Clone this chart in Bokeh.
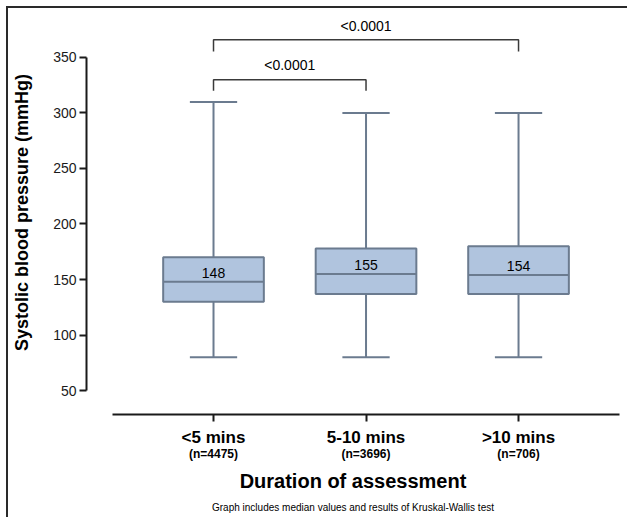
from bokeh.plotting import figure
from bokeh.models import (Range1d, FixedTicker, LinearAxis, Title, ColumnDataSource, Div)
from bokeh.layouts import column, row
from bokeh.core.properties import value
from bokeh.embed import file_html
from bokeh.resources import INLINE

# ---- data ----
categories = ["<5 mins", "5-10 mins", ">10 mins"]
n_labels = ["(n=4475)", "(n=3696)", "(n=706)"]
medians = [148, 155, 154]
q1 = [130, 137, 137]
q3 = [170, 178, 180]
whisk_lo = [80, 80, 80]
whisk_hi = [310, 300, 300]
y_ticks = [50, 100, 150, 200, 250, 300, 350]
comparisons = [(0, 1), (0, 2)]
p_values = ["<0.0001", "<0.0001"]

FONT = "Liberation Sans"
BOX_FILL = "#b0c4de"
BOX_LINE = "#6b7b8f"
EDGE = "#2a2a2a"

xs = list(range(len(categories)))

p = figure(width=619, height=509, output_backend="svg", toolbar_location=None,
           x_range=Range1d(-0.8328, 2.662), y_range=Range1d(28.38, 392.34),
           min_border_left=78, min_border_right=8, min_border_top=2,
           min_border_bottom=0)
p.margin = 0
p.outline_line_color = None
p.xgrid.visible = False
p.ygrid.visible = False
p.background_fill_color = "white"
p.border_fill_color = "white"

# ---- y axis ----
ya = p.yaxis[0]
ya.ticker = FixedTicker(ticks=y_ticks)
ya.bounds = (y_ticks[0], y_ticks[-1])
ya.axis_line_width = 2
ya.axis_line_color = "#1a1a1a"
ya.major_tick_line_width = 2
ya.major_tick_line_color = "#1a1a1a"
ya.major_tick_out = 7
ya.major_tick_in = 0
ya.minor_tick_line_color = None
ya.major_label_standoff = 3
ya.major_label_text_font = FONT
ya.major_label_text_font_size = "14px"
ya.major_label_text_color = "#1a1a1a"
ya.axis_label = "Systolic blood pressure (mmHg)"
ya.axis_label_text_font = FONT
ya.axis_label_text_font_style = "bold"
ya.axis_label_text_font_size = "18px"
ya.axis_label_text_color = "#000000"
ya.axis_label_standoff = 18

# ---- x axis (category names) ----
xa = p.xaxis[0]
xa.ticker = FixedTicker(ticks=xs)
xa.bounds = (-0.662, 2.662)
xa.major_label_overrides = {i: c for i, c in zip(xs, categories)}
xa.axis_line_width = 2
xa.axis_line_color = "#1a1a1a"
xa.major_tick_line_width = 2
xa.major_tick_line_color = "#1a1a1a"
xa.major_tick_out = 7
xa.major_tick_in = 0
xa.minor_tick_line_color = None
xa.major_label_standoff = 6
xa.major_label_text_font = FONT
xa.major_label_text_font_style = "bold"
xa.major_label_text_font_size = "17px"
xa.major_label_text_color = "#000000"

# ---- second x axis (n counts + axis title) ----
xa2 = LinearAxis(ticker=FixedTicker(ticks=xs),
                 major_label_overrides={i: n for i, n in zip(xs, n_labels)})
xa2.axis_line_color = None
xa2.major_tick_line_color = None
xa2.minor_tick_line_color = None
xa2.major_tick_out = 0
xa2.major_tick_in = 0
xa2.major_label_standoff = -3
xa2.major_label_text_font = FONT
xa2.major_label_text_font_style = "bold"
xa2.major_label_text_font_size = "12px"
xa2.major_label_text_color = "#000000"
xa2.axis_label = "Duration of assessment"
xa2.axis_label_text_font = FONT
xa2.axis_label_text_font_style = "bold"
xa2.axis_label_text_font_size = "20px"
xa2.axis_label_text_color = "#000000"
xa2.axis_label_standoff = 6
p.add_layout(xa2, "below")

foot = Title(text="Graph includes median values and results of Kruskal-Wallis test",
             align="center", text_font=FONT, text_font_size="10px",
             text_font_style="normal", text_color="#000000")
p.add_layout(foot, "below")

# ---- boxes ----
src = ColumnDataSource(dict(x=xs, med=medians, q1=q1, q3=q3, lo=whisk_lo, hi=whisk_hi,
                            lab=[str(m) for m in medians]))
BOX_W = 0.66
CAP_W = 0.31
p.segment(x0="x", y0="lo", x1="x", y1="q1", source=src, line_color=BOX_LINE, line_width=2)
p.segment(x0="x", y0="q3", x1="x", y1="hi", source=src, line_color=BOX_LINE, line_width=2)
cap_x0 = [x - CAP_W / 2 for x in xs]
cap_x1 = [x + CAP_W / 2 for x in xs]
p.segment(x0=cap_x0, y0=whisk_lo, x1=cap_x1, y1=whisk_lo, line_color=BOX_LINE, line_width=2)
p.segment(x0=cap_x0, y0=whisk_hi, x1=cap_x1, y1=whisk_hi, line_color=BOX_LINE, line_width=2)
p.vbar(x="x", width=BOX_W, bottom="q1", top="q3", source=src,
       fill_color=BOX_FILL, line_color=BOX_LINE, line_width=2)
box_x0 = [x - BOX_W / 2 for x in xs]
box_x1 = [x + BOX_W / 2 for x in xs]
p.segment(x0=box_x0, y0=medians, x1=box_x1, y1=medians, line_color=BOX_LINE, line_width=2)
p.text(x="x", y="med", text="lab", source=src, text_align="center",
       text_baseline="alphabetic", y_offset=-9, text_font=value(FONT),
       text_font_size="14px", text_color="#000000")

# ---- significance brackets ----
bracket_y = [330, 366]
bracket_drop = [10, 10.5]
label_y = [342.8, 378.8]
for (a, b), by, dr, ly, pv in zip(comparisons, bracket_y, bracket_drop, label_y, p_values):
    p.line(x=[a, a, b, b], y=[by - dr, by, by, by - dr], line_color="#3a3a3a", line_width=1.5)
    p.text(x=[(a + b) / 2], y=[ly], text=[pv], text_align="center",
           text_baseline="middle", text_font=value(FONT), text_font_size="14px",
           text_color="#000000")

# ---- picture edge (top and left lines of the original crop) ----
top_edge = Div(text="", width=621, height=2, margin=0,
               styles={"background-color": EDGE})
left_edge = Div(text="", width=2, height=509, margin=0,
                styles={"background-color": EDGE})
body = row(left_edge, p, spacing=0, margin=0)
lay = column(top_edge, body, spacing=0, margin=(6, 0, 0, 6))

open("out.html", "w").write(file_html(lay, INLINE))
